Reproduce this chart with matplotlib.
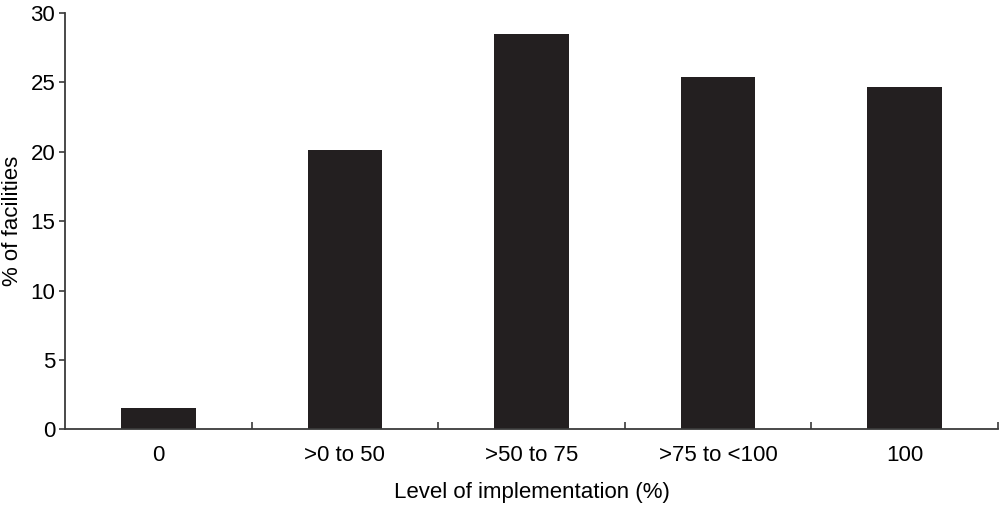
import matplotlib
matplotlib.use('Agg')
import matplotlib.pyplot as plt

categories = ['0', '>0 to 50', '>50 to 75', '>75 to <100', '100']
values = [1.5, 20.1, 28.5, 25.4, 24.7]

plt.rcParams['font.family'] = ['Liberation Sans', 'DejaVu Sans']

fig = plt.figure(figsize=(10, 5.05), dpi=100)
ax = fig.add_axes([0.065, 0.150, 0.933, 0.824])

x = list(range(len(categories)))
ax.bar(x, values, width=0.4, color='#231f20')

ax.set_xlim(-0.5, len(categories) - 0.5)
ax.set_ylim(0, 30)
ax.set_yticks(range(0, 31, 5))
ax.set_xticks(x)
ax.set_xticklabels(categories)
ax.set_xticks([i + 0.5 for i in x], minor=True)

ax.spines['top'].set_visible(False)
ax.spines['right'].set_visible(False)
for s in ['left', 'bottom']:
    ax.spines[s].set_color('#3a3a3a')
    ax.spines[s].set_linewidth(1.3)

ax.tick_params(axis='y', direction='out', length=4, width=1.2, color='#3a3a3a',
               labelsize=16, pad=3)
ax.tick_params(axis='x', which='major', length=0, labelsize=16, pad=11)
ax.tick_params(axis='x', which='minor', direction='in', length=5, width=1.2, color='#3a3a3a')

ax.set_xlabel('Level of implementation (%)', fontsize=16, labelpad=12)
ax.set_ylabel('% of facilities', fontsize=16, va='center')
# put the y label where the reference has it, near the left edge
ax.yaxis.set_label_coords(-0.056, 0.5)

fig.savefig('out.png', dpi=100)
